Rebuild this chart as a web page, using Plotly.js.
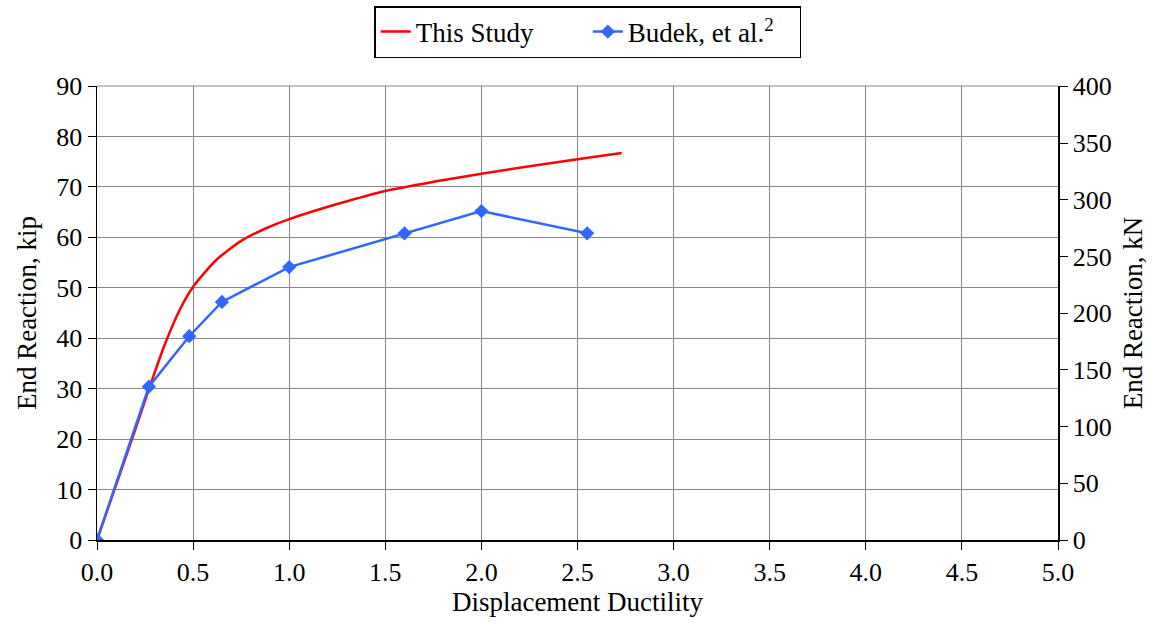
<!DOCTYPE html>
<html>
<head>
<meta charset="utf-8">
<script src="https://cdn.plot.ly/plotly-3.0.1.min.js"></script>
<style>html,body{margin:0;padding:0;background:#fff;}#chart{width:1164px;height:629px;}</style>
</head>
<body>
<div id="chart"></div>
<script>
// This Study (analytical curve)
const studyDuctility = [0, 0.1, 0.2, 0.28, 0.35, 0.43, 0.5, 0.62, 0.75, 0.88, 1.0, 1.25, 1.5, 1.75, 2.0, 2.25, 2.5, 2.73];
const studyReaction  = [0, 11, 22, 31, 38.5, 45.6, 50.2, 55.5, 59.3, 61.8, 63.6, 66.6, 69.2, 71, 72.6, 74.1, 75.5, 76.7];
// Budek, et al. test data
const budekDuctility = [0, 0.27, 0.48, 0.65, 1.0, 1.6, 2.0, 2.55];
const budekReaction  = [0, 30.4, 40.4, 47.2, 54.1, 60.8, 65.2, 60.8];
const kipToKN = 4.448;
const xTicks = [0, 0.5, 1, 1.5, 2, 2.5, 3, 3.5, 4, 4.5, 5];
const xTickText = ["0.0","0.5","1.0","1.5","2.0","2.5","3.0","3.5","4.0","4.5","5.0"];

const fam = "Liberation Serif, Times New Roman, serif";
const f = (s) => ({family: fam, color: "#000", size: s});
const traces = [
  {x: studyDuctility, y: studyReaction, type: "scatter", mode: "lines", name: "This Study",
   line: {color: "#ff0000", width: 2.5, shape: "spline", smoothing: 0.6}},
  {x: budekDuctility, y: budekReaction, type: "scatter", mode: "lines+markers", name: "Budek, et al.<sup>2</sup>",
   line: {color: "#3366ff", width: 2.5}, marker: {symbol: "diamond", size: 11, color: "#3366ff"}},
  {x: [0], y: [0], yaxis: "y2", type: "scatter", mode: "markers", marker: {opacity: 0}, showlegend: false, hoverinfo: "skip"}
];
const layout = {
  width: 1164, height: 629,
  margin: {l: 97, r: 106, t: 86, b: 89, autoexpand: false},
  paper_bgcolor: "#fff", plot_bgcolor: "#fff",
  font: f(26),
  showlegend: true,
  legend: {orientation: "h", xref: "container", yref: "container", x: 0.505, xanchor: "center",
           y: 1 - 6/629, yanchor: "top",
           bordercolor: "#000", borderwidth: 1.5, font: f(27),
           traceorder: "normal", entrywidth: 167, entrywidthmode: "pixels"},
  xaxis: {range: [0, 5], tickvals: xTicks, ticktext: xTickText, showgrid: true, gridcolor: "#888", gridwidth: 1,
          zeroline: false, showline: true, linecolor: "#000", linewidth: 1.5, ticks: "outside", ticklen: 8,
          tickcolor: "#000", tickfont: f(26),
          title: {text: "Displacement Ductility", font: f(27), standoff: 4}},
  yaxis: {range: [0, 90], dtick: 10, showgrid: true, gridcolor: "#888", gridwidth: 1, zeroline: false,
          showline: true, linecolor: "#000", linewidth: 1.5, ticks: "outside", ticklen: 8, tickcolor: "#000",
          tickfont: f(26),
          title: {text: "End Reaction, kip", font: f(27), standoff: 12}},
  yaxis2: {range: [0, 90 * kipToKN], dtick: 50, overlaying: "y", side: "right", showgrid: false, zeroline: false,
           showline: true, linecolor: "#000", linewidth: 1.5, ticks: "outside", ticklen: 8, tickcolor: "#000",
           tickfont: f(26),
           title: {text: "End Reaction, kN", font: f(27), standoff: 12}},
  shapes: [{type: "line", xref: "paper", yref: "paper", x0: 0, x1: 1, y0: 1, y1: 1, line: {color: "#888", width: 1}}]
};
Plotly.newPlot("chart", traces, layout, {displayModeBar: false, staticPlot: true});
</script>
</body>
</html>
